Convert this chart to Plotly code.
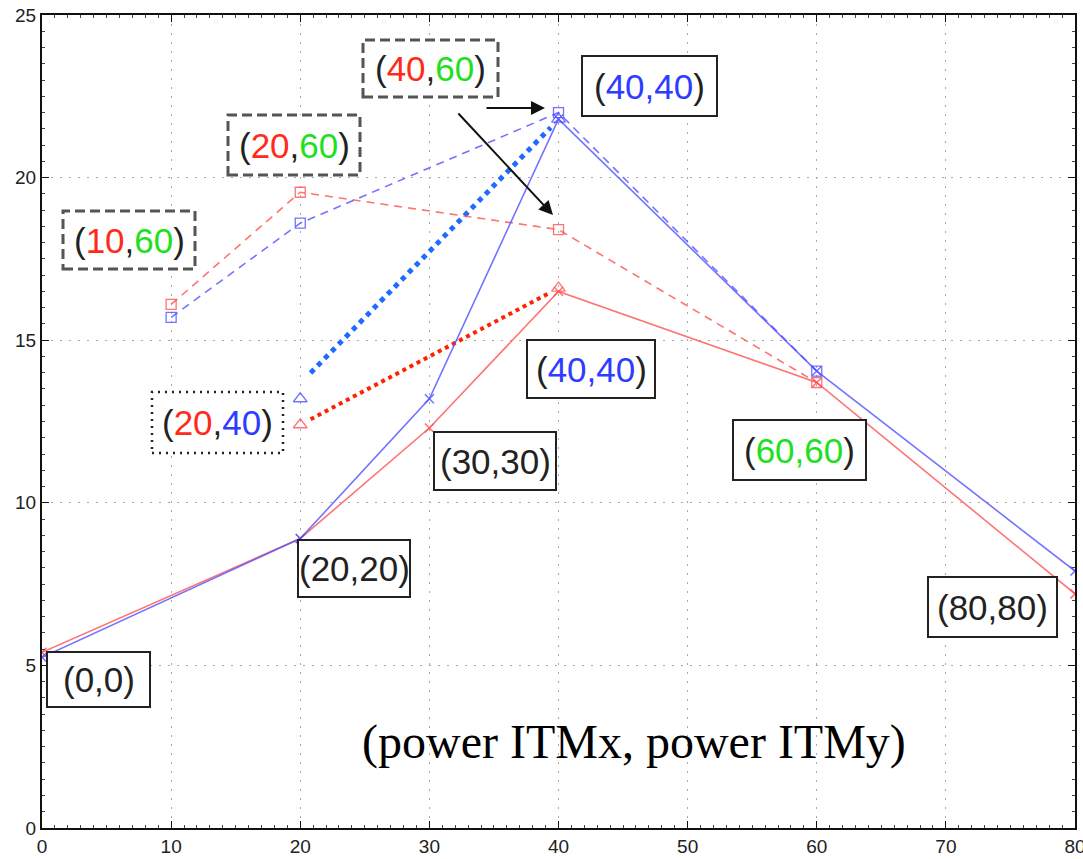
import plotly.graph_objects as go

# ---------------- data ----------------
x_solid = [0, 20, 30, 40, 60, 80]
red_solid = [5.4, 8.9, 12.3, 16.5, 13.7, 7.2]
blue_solid = [5.25, 8.9, 13.2, 21.8, 14.05, 7.9]

x_dash = [10, 20, 40, 60]
red_dash = [16.1, 19.55, 18.4, 13.7]
blue_dash = [15.7, 18.6, 22.0, 14.05]

x_tri = [20, 40]
red_tri = [12.4, 16.6]
blue_tri = [13.2, 21.8]

x_ticks = [0, 10, 20, 30, 40, 50, 60, 70, 80]
y_ticks = [0, 5, 10, 15, 20, 25]

RED = "#ff2a1a"
GREEN = "#1ee01e"
BLUE = "#2e3cff"
RED_L = "rgba(255,80,80,0.8)"
BLUE_L = "rgba(80,80,255,0.8)"

# plot area in pixels
L, R, T, B = 42, 1075, 15, 828
W, H = 1083, 859


def px(xp):
    return (xp - L) / (R - L)


def py(yp):
    return (B - yp) / (B - T)


fig = go.Figure()

# thick dotted connectors of the triangle series (trimmed a little at the ends)
def trim(xs, ys, a=0.04, b=0.97):
    xa = xs[0] + (xs[1] - xs[0]) * a
    xb = xs[0] + (xs[1] - xs[0]) * b
    ya = ys[0] + (ys[1] - ys[0]) * a
    yb = ys[0] + (ys[1] - ys[0]) * b
    return [xa, xb], [ya, yb]

bx, byv = trim(x_tri, blue_tri)
fig.add_trace(go.Scatter(x=bx, y=[byv[0] + 0.45, byv[1]], mode="lines",
                         line=dict(color="#1f6bff", width=5, dash="dot"),
                         hoverinfo="skip", showlegend=False))
rx, ryv = trim(x_tri, red_tri)
fig.add_trace(go.Scatter(x=rx, y=ryv, mode="lines",
                         line=dict(color="#ff2200", width=4, dash="dot"),
                         hoverinfo="skip", showlegend=False))

# dashed series with squares
fig.add_trace(go.Scatter(x=x_dash, y=red_dash, mode="lines+markers",
                         line=dict(color=RED_L, width=1.6, dash="8px,6px"),
                         marker=dict(symbol="square-open", size=10, color=RED_L, line=dict(width=1.3)),
                         showlegend=False))
fig.add_trace(go.Scatter(x=x_dash, y=blue_dash, mode="lines+markers",
                         line=dict(color=BLUE_L, width=1.6, dash="8px,6px"),
                         marker=dict(symbol="square-open", size=10, color=BLUE_L, line=dict(width=1.3)),
                         showlegend=False))

# solid series with x markers
fig.add_trace(go.Scatter(x=x_solid, y=red_solid, mode="lines+markers",
                         line=dict(color=RED_L, width=1.6),
                         marker=dict(symbol="x-thin-open", size=9, color=RED_L, line=dict(width=1.5, color=RED_L)),
                         showlegend=False))
fig.add_trace(go.Scatter(x=x_solid, y=blue_solid, mode="lines+markers",
                         line=dict(color=BLUE_L, width=1.6),
                         marker=dict(symbol="x-thin-open", size=9, color=BLUE_L, line=dict(width=1.5, color=BLUE_L)),
                         showlegend=False))

# triangles
fig.add_trace(go.Scatter(x=x_tri, y=red_tri, mode="markers",
                         marker=dict(symbol="triangle-up-open", size=12, color=RED_L, line=dict(width=1.3)),
                         showlegend=False))
fig.add_trace(go.Scatter(x=x_tri, y=blue_tri, mode="markers",
                         marker=dict(symbol="triangle-up-open", size=12, color=BLUE_L, line=dict(width=1.3)),
                         showlegend=False))


def c(t, col):
    return f"<span style='color:{col}'>{t}</span>"

# label boxes: text, (x0, y0, x1, y1) in pixels, border style
labels = [
    ("(0,0)", (47, 652, 150, 707), "solid"),
    ("(20,20)", (298, 540, 410, 597), "solid"),
    ("(30,30)", (434, 432, 556, 490), "solid"),
    ("(" + c("40,40", BLUE) + ")", (527, 340, 655, 398), "solid"),
    ("(" + c("60,60", GREEN) + ")", (733, 420, 866, 480), "solid"),
    ("(80,80)", (928, 577, 1057, 637), "solid"),
    ("(" + c("40,40", BLUE) + ")", (582, 56, 717, 116), "solid"),
    ("(" + c("40", RED) + "," + c("60", GREEN) + ")", (363, 40, 498, 97), "dash"),
    ("(" + c("20", RED) + "," + c("60", GREEN) + ")", (228, 115, 360, 175), "dash"),
    ("(" + c("10", RED) + "," + c("60", GREEN) + ")", (63, 211, 195, 269), "dash"),
    ("(" + c("20", RED) + "," + c("40", BLUE) + ")", (152, 392, 283, 453), "dot"),
]

shapes = []
annotations = []
for text, (x0, y0, x1, y1), style in labels:
    if style == "solid":
        line = dict(color="#222222", width=2)
    elif style == "dash":
        line = dict(color="#555555", width=3, dash="10px,5px")
    else:
        line = dict(color="#222222", width=2.5, dash="2px,5px")
    shapes.append(dict(type="rect", xref="paper", yref="paper",
                       x0=px(x0), x1=px(x1), y0=py(y1), y1=py(y0),
                       line=line, fillcolor="rgba(255,255,255,0.95)", layer="above"))
    annotations.append(dict(text=text, xref="paper", yref="paper",
                            x=px((x0 + x1) / 2), y=py((y0 + y1) / 2),
                            xanchor="center", yanchor="middle", showarrow=False,
                            font=dict(family="Liberation Sans, Arial", size=35, color="#222222")))

# arrows (head px, tail px)
arrows = [((545, 108), (485, 108)), ((553, 215), (457, 112))]
for (hx, hy), (tx, ty) in arrows:
    annotations.append(dict(x=px(hx), y=py(hy), xref="paper", yref="paper",
                            ax=tx - hx, ay=ty - hy, text="", showarrow=True,
                            arrowhead=2, arrowsize=1.4, arrowwidth=2, arrowcolor="#111111"))

annotations.append(dict(text="(power ITMx, power ITMy)", xref="paper", yref="paper",
                        x=px(634), y=py(742), xanchor="center", yanchor="middle", showarrow=False,
                        font=dict(family="Liberation Serif, Times New Roman", size=48, color="#000000")))

axis_common = dict(showgrid=True, gridcolor="#aaaaaa", griddash="2px,7px", gridwidth=1.2,
                   showline=True, linecolor="#111111", linewidth=2, mirror="ticks",
                   ticks="inside", ticklen=7, tickcolor="#111111", tickwidth=1,
                   zeroline=False, automargin=False,
                   tickfont=dict(family="Liberation Sans, Arial", size=19, color="#222222"))

fig.update_layout(
    width=W, height=H,
    margin=dict(l=L, r=W - R, t=T, b=H - B, autoexpand=False),
    plot_bgcolor="white", paper_bgcolor="white",
    xaxis=dict(range=[0, 80], tickvals=x_ticks, ticktext=[str(v) for v in x_ticks],
               ticklabeloverflow="allow",
               minor=dict(ticks="inside", ticklen=3, dtick=1, tickcolor="#444444", showgrid=False),
               **axis_common),
    yaxis=dict(range=[0, 25], tickvals=y_ticks, ticktext=[str(v) for v in y_ticks],
               minor=dict(ticks="inside", ticklen=3, dtick=0.5, tickcolor="#444444", showgrid=False),
               **axis_common),
    shapes=shapes,
    annotations=annotations,
)

fig.write_html("out.html")
